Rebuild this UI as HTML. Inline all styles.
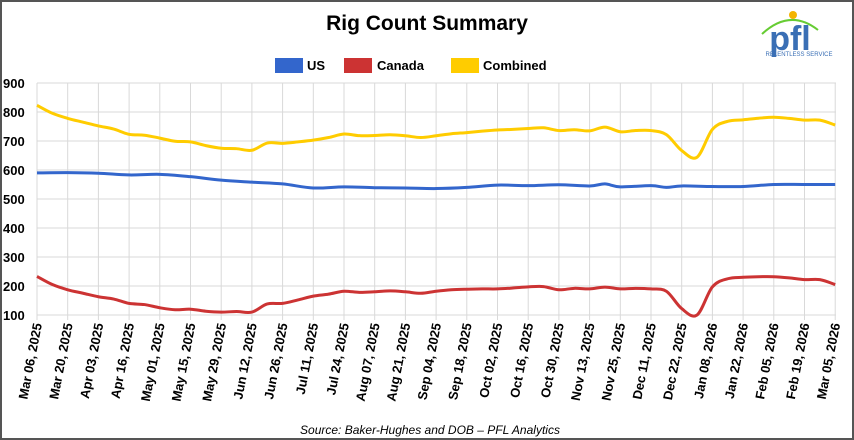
<!DOCTYPE html>
<html><head><style>
body{margin:0;background:#fff;}
#c{position:relative;width:850px;height:436px;border:2px solid #555;background:#fff;font-family:"Liberation Sans",Arial,sans-serif;overflow:hidden}
</style></head><body><div id="c">
<svg id="s" width="850" height="436" xmlns="http://www.w3.org/2000/svg" style="position:absolute;left:-2px;top:-2px;overflow:visible">
<text x="427" y="30" text-anchor="middle" font-family="Liberation Sans, Arial, sans-serif" font-weight="bold" font-size="21" fill="#000">Rig Count Summary</text>
<rect x="275" y="58" width="28" height="15" fill="#3366cc"/>
<text x="307" y="70" font-family="Liberation Sans, Arial, sans-serif" font-size="13" font-weight="bold" fill="#000">US</text>
<rect x="344" y="58" width="28" height="15" fill="#cc3333"/>
<text x="377" y="70" font-family="Liberation Sans, Arial, sans-serif" font-size="13" font-weight="bold" fill="#000">Canada</text>
<rect x="451" y="58" width="28" height="15" fill="#ffcc00"/>
<text x="483" y="70" font-family="Liberation Sans, Arial, sans-serif" font-size="13" font-weight="bold" fill="#000">Combined</text>
<!-- logo -->
<path d="M762 34 Q790 8 818 30" stroke="#66cc33" stroke-width="2" fill="none"/>
<circle cx="793" cy="15" r="4" fill="#f4b400"/>
<text x="790" y="50" text-anchor="middle" font-family="Liberation Sans, Arial, sans-serif" font-weight="bold" font-size="34" fill="#3a6fb5">pfl</text>
<text x="799" y="56" text-anchor="middle" font-family="Liberation Sans, Arial, sans-serif" font-size="6" fill="#3a6fb5">RELENTLESS SERVICE</text>
<g id="g"></g>
<text x="430" y="434" text-anchor="middle" font-family="Liberation Sans, Arial, sans-serif" font-style="italic" font-size="12" fill="#000">Source: Baker-Hughes and DOB – PFL Analytics</text>
</svg>
</div>
<script>
var g=document.getElementById('g'),h='';
var X0=37,DX=30.7,Y=function(v){return 315-(v-100)*0.29};
for(var v=100;v<=900;v+=100){h+='<line x1="'+X0+'" x2="836" y1="'+Y(v)+'" y2="'+Y(v)+'" stroke="#d9d9d9"/>';
h+='<text x="3" y="'+(Y(v)+5)+'" font-family="Liberation Sans, Arial, sans-serif" font-size="13" font-weight="bold">'+v+'</text>';}
var labs=["Mar 06, 2025","Mar 20, 2025","Apr 03, 2025","Apr 16, 2025","May 01, 2025","May 15, 2025","May 29, 2025","Jun 12, 2025","Jun 26, 2025","Jul 11, 2025","Jul 24, 2025","Aug 07, 2025","Aug 21, 2025","Sep 04, 2025","Sep 18, 2025","Oct 02, 2025","Oct 16, 2025","Oct 30, 2025","Nov 13, 2025","Nov 25, 2025","Dec 11, 2025","Dec 22, 2025","Jan 08, 2026","Jan 22, 2026","Feb 05, 2026","Feb 19, 2026","Mar 05, 2026"];
for(var i=0;i<27;i++){var x=X0+i*DX;h+='<line x1="'+x+'" x2="'+x+'" y1="83" y2="320" stroke="#d9d9d9"/>';
h+='<text transform="translate('+(x+5)+',324) rotate(-79)" text-anchor="end" font-family="Liberation Sans, Arial, sans-serif" font-size="13" font-weight="bold">'+labs[i]+'</text>';}
var ca=[[0,233],[0.5,205],[1,187],[1.5,175],[2,163],[2.5,155],[3,140],[3.5,136],[4,125],[4.5,118],[5,120],[5.5,113],[6,110],[6.5,112],[7,110],[7.5,138],[8,140],[8.5,152],[9,165],[9.5,172],[10,182],[10.5,178],[11,180],[11.5,183],[12,180],[12.5,175],[13,182],[13.5,187],[14,189],[14.5,190],[15,190],[15.5,193],[16,197],[16.5,198],[17,187],[17.5,192],[18,190],[18.5,196],[19,190],[19.5,192],[20,190],[20.5,182],[21,122],[21.5,100],[22,197],[22.5,225],[23,230],[23.5,232],[24,232],[24.5,228],[25,222],[25.5,222],[26,205]];
var us=[[0,590],[1,591],[2,589],[3,583],[4,585],[5,577],[6,565],[7,558],[8,552],[9,538],[10,542],[11,539],[12,538],[13,536],[14,540],[15,548],[16,546],[17,549],[18,545],[18.5,552],[19,542],[20,546],[20.5,540],[21,545],[22,543],[23,543],[24,550],[25,550],[26,550]];
function val(a,t){for(var k=0;k<a.length-1;k++){if(t<=a[k+1][0]){var f=(t-a[k][0])/(a[k+1][0]-a[k][0]);return a[k][1]+f*(a[k+1][1]-a[k][1]);}}return a[a.length-1][1];}
var co=ca.map(function(p){return [p[0],p[1]+val(us,p[0])];});
function path(a,c){var P=a.map(function(p){return [X0+p[0]*DX,Y(p[1])];});var d='M'+P[0][0]+' '+P[0][1];
for(var k=0;k<P.length-1;k++){var p0=P[k-1]||P[k],p1=P[k],p2=P[k+1],p3=P[k+2]||P[k+1];
d+=' C'+(p1[0]+(p2[0]-p0[0])/6)+' '+(p1[1]+(p2[1]-p0[1])/6)+' '+(p2[0]-(p3[0]-p1[0])/6)+' '+(p2[1]-(p3[1]-p1[1])/6)+' '+p2[0]+' '+p2[1];}
return '<path d="'+d+'" fill="none" stroke="'+c+'" stroke-width="3"/>';}
h+=path(co,'#ffcc00')+path(us,'#3366cc')+path(ca,'#cc3333');
g.innerHTML=h;
</script>
</body></html>
